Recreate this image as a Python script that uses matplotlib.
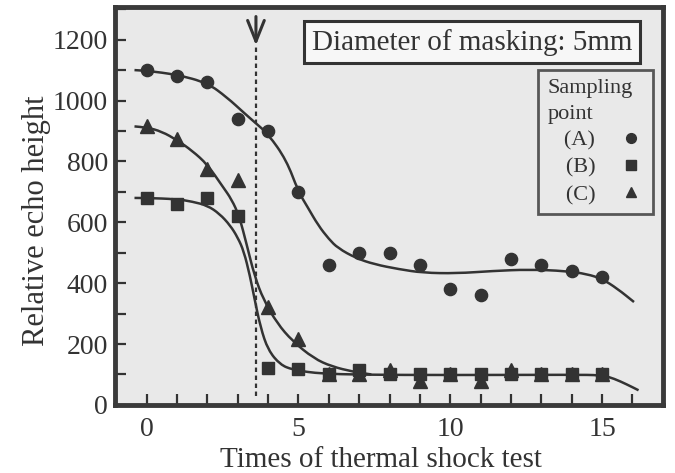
import numpy as np
import matplotlib
matplotlib.use('Agg')
import matplotlib.pyplot as plt
from matplotlib.ticker import MultipleLocator
from matplotlib.path import Path
from matplotlib.patches import PathPatch

plt.rcParams['font.family'] = ['Liberation Serif', 'DejaVu Serif']

# measured points
times = list(range(16))
point_a = [1100, 1080, 1060, 940, 900, 700, 460, 500, 500, 460, 380, 360, 480, 460, 440, 420]
point_b = [680, 660, 680, 620, 120, 118, 100, 115, 100, 100, 100, 100, 100, 100, 100, 100]
point_c = [915, 875, 775, 740, 320, 215, 100, 100, 115, 80, 100, 80, 115, 100, 100, 100]

# fitted curves
curve_a_x = [-0.4, 0, 1, 2, 2.65, 3.2, 3.6, 4.0, 4.6, 5.0, 5.3, 5.65, 6.0, 6.3, 6.9, 7.5, 8.3, 9.1, 10.2, 11.4, 12.6, 13.8, 14.5, 15.0, 15.5, 16.05]
curve_a_y = [1100, 1098, 1085, 1058, 1010, 960, 925, 890, 805, 700, 650, 590, 545, 515, 482, 462, 446, 434, 432, 440, 445, 440, 430, 414, 382, 338]

curve_b_x = [-0.4, 0, 1, 1.5, 2, 2.4, 2.75, 3.0, 3.2, 3.4, 3.55, 3.75, 4.0, 4.4, 4.8, 5.3, 5.8, 7, 10, 14, 15, 15.4, 15.8, 16.2]
curve_b_y = [680, 680, 676, 668, 655, 628, 590, 550, 505, 425, 350, 255, 180, 132, 116, 108, 103, 99, 98, 99, 98, 86, 68, 48]

curve_c_x = [-0.4, 0, 0.5, 1, 1.5, 2, 2.5, 2.8, 3.05, 3.3, 3.55, 3.85, 4.3, 4.8, 5.5, 6.1, 6.8, 7.4]
curve_c_y = [915, 912, 898, 870, 835, 790, 718, 675, 620, 525, 425, 345, 268, 210, 153, 126, 109, 100]

shock_line_x = 3.6

ink = '#333333'
bg = '#e9e9e9'


def smooth_curve(ax, xs, ys):
    # quadratic bezier through the midpoints of the read points
    pts = list(zip(xs, ys))
    verts = [pts[0]]
    codes = [Path.MOVETO]
    for i in range(1, len(pts) - 1):
        mid = ((pts[i][0] + pts[i + 1][0]) / 2, (pts[i][1] + pts[i + 1][1]) / 2)
        verts += [pts[i], mid]
        codes += [Path.CURVE3, Path.CURVE3]
    verts.append(pts[-1])
    codes.append(Path.LINETO)
    ax.add_patch(PathPatch(Path(verts, codes), fill=False, ec=ink, lw=1.8))


fig = plt.figure(figsize=(6.75, 4.73), dpi=100)
ax = fig.add_axes([0.170, 0.144, 0.812, 0.841])
ax.set_facecolor(bg)

smooth_curve(ax, curve_a_x, curve_a_y)
smooth_curve(ax, curve_b_x, curve_b_y)
smooth_curve(ax, curve_c_x, curve_c_y)

ha, = ax.plot(times, point_a, 'o', color=ink, ms=8.8, ls='none', label='   (A)')
hc, = ax.plot(times, point_c, '^', color=ink, ms=9.5, ls='none', label='   (C)')
hb, = ax.plot(times, point_b, 's', color=ink, ms=8.8, ls='none', label='   (B)')

# dashed line with arrow
ax.plot([shock_line_x, shock_line_x], [30, 1180], color=ink, lw=1.6, ls=(0, (2, 1.6)))
ax.annotate('', xy=(shock_line_x, 1172), xytext=(shock_line_x, 1285),
            arrowprops=dict(arrowstyle='->,head_length=1.5,head_width=0.6',
                            color=ink, lw=2.2))

ax.set_xlim(-1.05, 17)
ax.set_ylim(0, 1307)
ax.xaxis.set_major_locator(MultipleLocator(5))
ax.xaxis.set_minor_locator(MultipleLocator(1))
ax.yaxis.set_major_locator(MultipleLocator(200))
ax.yaxis.set_minor_locator(MultipleLocator(100))
ax.tick_params(which='both', direction='in', length=8, width=1.6, color=ink,
               top=False, right=False)
ax.tick_params(axis='x', which='major', labelsize=20, labelcolor=ink, pad=9)
ax.tick_params(axis='y', which='major', labelsize=20, labelcolor=ink, pad=5)

for s in ax.spines.values():
    s.set_linewidth(3.5)
    s.set_color('#3a3a3a')

ax.set_xlabel('Times of thermal shock test', fontsize=21, color=ink, labelpad=3, x=0.486)
ax.set_ylabel('Relative echo height', fontsize=22, color=ink, labelpad=1, y=0.462)

ax.text(0.652, 0.912, 'Diameter of masking: 5mm', transform=ax.transAxes,
        ha='center', va='center', fontsize=21, color=ink,
        bbox=dict(boxstyle='square,pad=0.27', fc='#f7f7f7', ec=ink, lw=2.2))

leg = ax.legend(handles=[ha, hb, hc], title='Sampling\npoint', loc='upper right',
                bbox_to_anchor=(0.982, 0.841), borderaxespad=0, markerfirst=False,
                fontsize=16, title_fontsize=16, frameon=True, fancybox=False,
                markerscale=0.8, handletextpad=1.0, handlelength=1.2,
                borderpad=0.4, labelspacing=0.3, alignment='left')
leg.get_frame().set_edgecolor(ink)
leg.get_frame().set_linewidth(2)
leg.get_frame().set_facecolor(bg)
for t in leg.get_texts():
    t.set_color(ink)
leg.get_title().set_color(ink)
leg.get_title().set_linespacing(1.45)

fig.savefig('out.png', dpi=100)
